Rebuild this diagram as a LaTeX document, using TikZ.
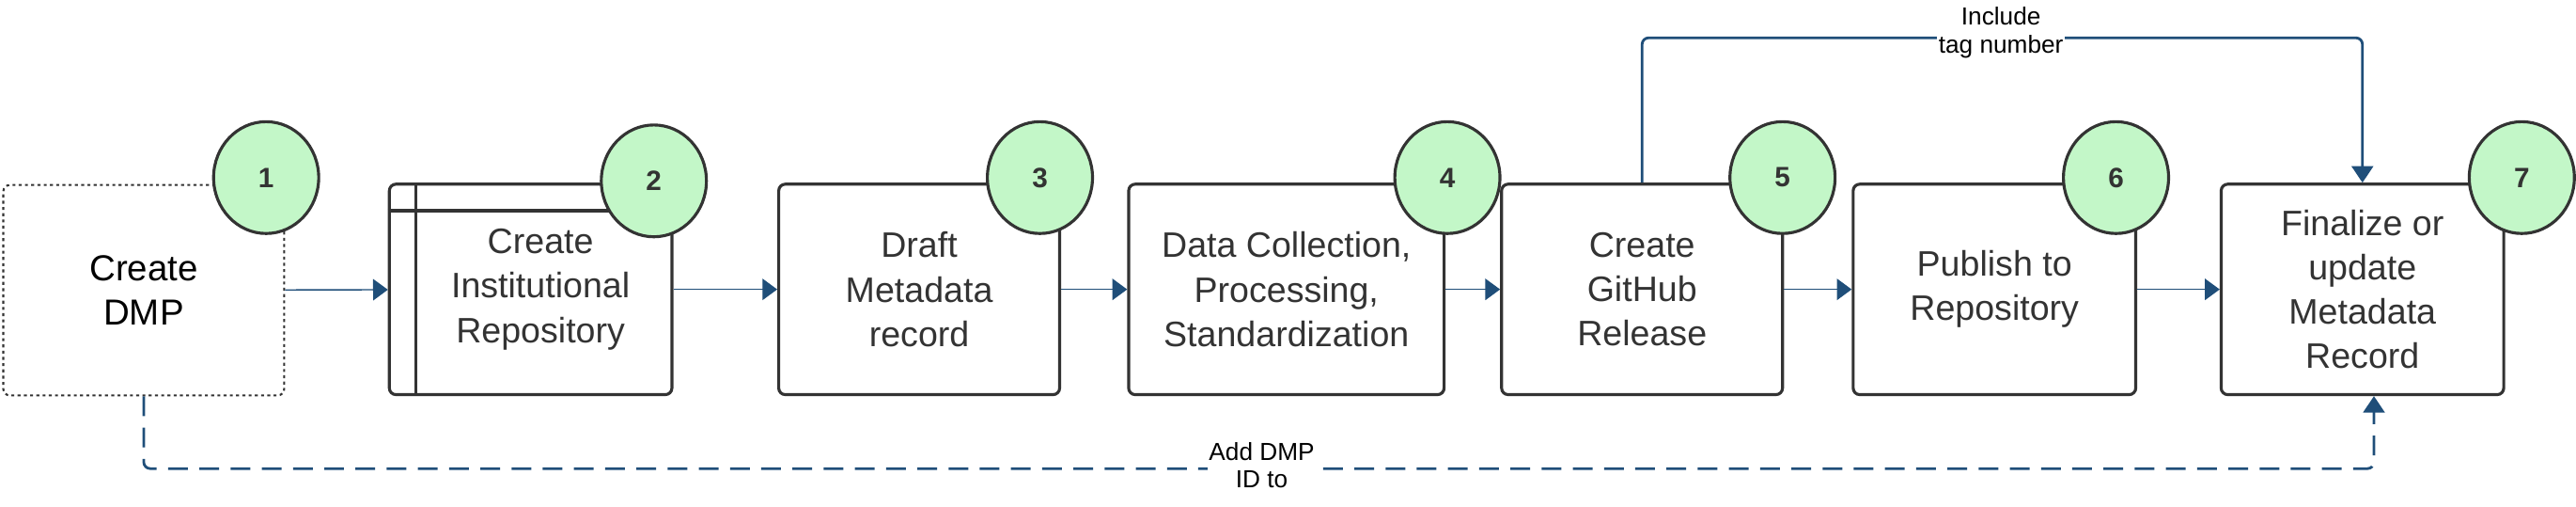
\documentclass[tikz,border=0pt]{standalone}
\usepackage{fontspec}
\setmainfont{Liberation Sans}
\usetikzlibrary{arrows.meta}
\definecolor{linkblue}{HTML}{1F4E79}
\definecolor{inkgray}{HTML}{333333}
\definecolor{badgegreen}{HTML}{C3F7C8}
\tikzset{
  stage/.style={rectangle, draw=inkgray, line width=1.8pt, rounded corners=4pt, align=center,
    text=inkgray, font=\fontsize{21.5}{27}\selectfont, minimum height=128pt},
  badge/.style={ellipse, draw=inkgray, line width=1.8pt, fill=badgegreen, text=inkgray,
    minimum width=64pt, minimum height=68pt, inner sep=0pt, font=\fontsize{17}{20}\selectfont\bfseries},
  flow/.style={-{Triangle[length=9pt,width=13pt]}, draw=linkblue, line width=0.8pt},
  loopline/.style={-{Triangle[length=10pt,width=13pt]}, draw=linkblue, line width=1.6pt, rounded corners=4pt},
  tag/.style={fill=white, align=center, font=\fontsize{15}{17}\selectfont, inner sep=1pt}
}
\usetikzlibrary{shapes.geometric}
\begin{document}
\begin{tikzpicture}[x=1pt, y=-1pt]
    \useasboundingbox (0,0) rectangle (1568,308);
    % Stages
    \node [stage, draw=inkgray, dotted, line width=1.2pt, minimum width=171pt, text=black,
      font=\fontsize{22}{27}\selectfont] (dmp) at (87.5,176.5) {Create\\DMP};
    \node [stage, minimum width=172pt] (repo) at (323,176) {\hspace*{12pt}Create\\\hspace*{12pt}Institutional\\\hspace*{12pt}Repository};
    \node [stage, minimum width=171pt] (draft) at (559.5,176) {Draft\\Metadata\\record};
    \node [stage, minimum width=192pt] (collect) at (783,176) {Data Collection,\\Processing,\\Standardization};
    \node [stage, minimum width=171pt] (release) at (999.5,176) {Create\\GitHub\\Release};
    \node [stage, minimum width=172pt] (publish) at (1214,176) {Publish to\\Repository};
    \node [stage, minimum width=172pt] (final) at (1438,176) {Finalize or\\update\\Metadata\\Record};
    % Window lines of stage 2
    \draw [inkgray, line width=1.8pt] ([xshift=17pt]repo.north west) -- ([xshift=17pt]repo.south west);
    \draw [inkgray, line width=1.8pt] ([yshift=-17pt]repo.north west) -- ([yshift=-17pt]repo.north east);
    % Badges
    \node [badge] (n1) at (162,108) {1};
    \node [badge] (n2) at (398,110) {2};
    \node [badge] (n3) at (633,108) {3};
    \node [badge] (n4) at (881,108) {4};
    \node [badge] (n5) at (1085,108) {5};
    \node [badge] (n6) at (1288,108) {6};
    \node [badge] (n7) at (1535,108) {7};
    % Arrows
    \draw [flow] (dmp) -- (repo);
    \draw [flow] (repo) -- (draft);
    \draw [flow] (draft) -- (collect);
    \draw [flow] (collect) -- (release);
    \draw [flow] (release) -- (publish);
    \draw [flow] (publish) -- (final);
    % Feedback lines
    \draw [loopline] (release.north) |- (1218,23) -| (final.north);
    \node [tag] at (1218,20) {Include\\tag number};
    \draw [loopline, dashed, dash pattern=on 12pt off 7pt] (dmp.south) |- (768,285) -| ([xshift=7pt]final.south);
    \node [tag] at (768,283) {Add DMP\\ID to};
\end{tikzpicture}
\end{document}
